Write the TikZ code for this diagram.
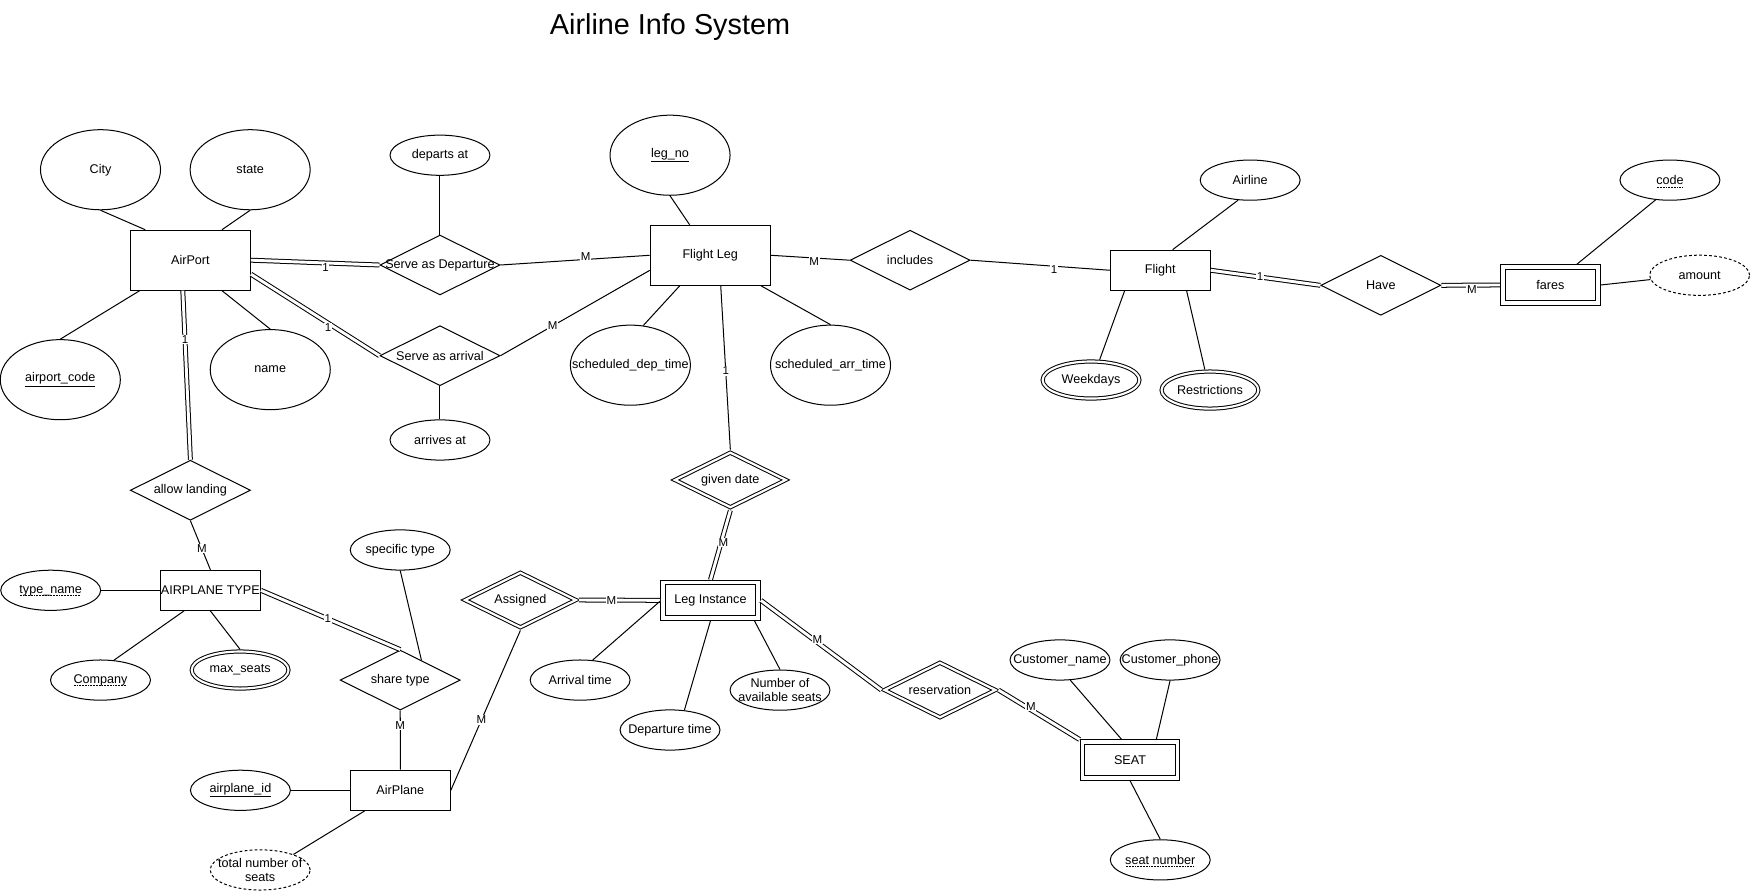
\documentclass[tikz,border=0pt]{standalone}
\usepackage{fontspec}
\setmainfont{Liberation Sans}
\usetikzlibrary{shapes.geometric}
\newsavebox\dotulbox
\newcommand{\dotul}[1]{\sbox\dotulbox{#1}\rlap{\raisebox{-2.4pt}[0pt][0pt]{\hbox to \wd\dotulbox{\leaders\hbox to 1.4pt{\hss\vrule width 0.7pt height 0.7pt\hss}\hfill}}}\usebox\dotulbox}

\begin{document}
\begin{tikzpicture}[x=1pt, y=-1pt, line width=0.9pt,
  font=\fontsize{11.3}{13}\selectfont,
  every label/.style={font=\fontsize{11.3}{13}\selectfont, align=center, inner sep=0pt},
  entity/.style={draw, rectangle, minimum width=89.5pt, minimum height=36pt, inner sep=0pt},
  bigentity/.style={entity, minimum width=107.5pt, minimum height=53.7pt},
  weakentity/.style={entity, double, double distance=3.3pt, minimum width=85.3pt, minimum height=31.8pt, outer sep=2.5pt},
  attribute/.style={draw, ellipse, minimum width=89.5pt, minimum height=36pt, inner sep=0pt, label=center:{#1}},
  bigattribute/.style={attribute={#1}, minimum width=107.5pt, minimum height=71.7pt},
  multivalued/.style={attribute={#1}, double, double distance=1.9pt, minimum width=86.7pt, minimum height=33.2pt, outer sep=1.9pt},
  derived/.style={attribute={#1}, dash pattern=on 2.5pt off 2pt},
  relation/.style={draw, diamond, minimum width=107.5pt, minimum height=53.7pt, inner sep=0pt, label=center:{#1}},
  weakrelation/.style={relation={#1}, double, double distance=2pt, minimum width=100.9pt, minimum height=50.5pt, outer sep=2pt},
  dbl/.style={double, double distance=2.6pt},
  card/.style={fill=white, inner sep=0.6pt, font=\fontsize{10.3}{11}\selectfont}]
  \useasboundingbox (0,0) rectangle (1568,798);

  % Title
  \node[anchor=base, font=\fontsize{25.8}{30}\selectfont] (title) at (600,31.3) {Airline Info System};

  % Entities
  \node[bigentity] (airport) at (170.5,233) {AirPort};
  \node[bigentity] (flightleg) at (636,228.6) {Flight Leg};
  \node[entity] (flight) at (1039,242) {Flight};
  \node[weakentity] (fares) at (1388.3,255.2) {fares};
  \node[entity] (atype) at (188.4,528.6) {AIRPLANE TYPE};
  \node[entity] (airplane) at (358.5,707.7) {AirPlane};
  \node[weakentity] (leginst) at (636.2,537.6) {Leg Instance};
  \node[weakentity] (seat) at (1011.9,680.6) {SEAT};

  % Relationships
  \node[relation=Serve as Departure] (servdep) at (394,237.3) {};
  \node[relation=Serve as arrival] (servarr) at (394,318.5) {};
  \node[relation=includes] (includes) at (815,233) {};
  \node[relation=Have] (have) at (1236.5,255.5) {};
  \node[relation=allow landing] (allowland) at (170.5,439) {};
  \node[relation=share type] (sharetype) at (358.4,609) {};
  \node[weakrelation=given date] (givendate) at (654,429.8) {};
  \node[weakrelation=Assigned] (assigned) at (466,537.3) {};
  \node[weakrelation=reservation] (reserv) at (841.7,617.9) {};

  % Attributes
  \node[bigattribute=City] (city) at (90,152) {};
  \node[bigattribute=state] (state) at (224,152) {};
  \node[bigattribute={\underline{airport\_code}}] (apcode) at (54,340) {};
  \node[bigattribute=name] (apname) at (242,331) {};
  \node[bigattribute={\underline{leg\_no}}] (legno) at (600,139) {};
  \node[bigattribute={scheduled\_dep\_time}] (sdep) at (564.5,327) {};
  \node[bigattribute={scheduled\_arr\_time}] (sarr) at (743.7,327) {};
  \node[attribute=departs at] (depat) at (394,139) {};
  \node[attribute=arrives at] (arrat) at (394,394) {};
  \node[attribute=Airline] (airline) at (1119.5,161.3) {};
  \node[attribute={\dotul{code}}] (code) at (1495.4,161.3) {};
  \node[derived=amount] (amount) at (1522,246.5) {};
  \node[multivalued=Weekdays] (weekdays) at (977,340.3) {};
  \node[multivalued=Restrictions] (restr) at (1083.5,349.3) {};
  \node[attribute={\dotul{type\_name}}] (tname) at (45.4,528.6) {};
  \node[attribute={\dotul{Company}}] (company) at (90,609) {};
  \node[multivalued={max\_seats}] (maxseats) at (215,600) {};
  \node[attribute=specific type] (spectype) at (358.4,492.5) {};
  \node[attribute={\underline{airplane\_id}}] (apid) at (215.3,707.7) {};
  \node[derived={total number of\\seats}] (totseats) at (233,779) {};
  \node[attribute=Arrival time] (arrtime) at (519.5,609) {};
  \node[attribute=Departure time] (deptime) at (600,653.7) {};
  \node[attribute={Number of\\available seats}] (avail) at (698.5,618) {};
  \node[attribute={Customer\_name}] (cname) at (949.2,591) {};
  \node[attribute={Customer\_phone}] (cphone) at (1047.8,591) {};
  \node[attribute={\dotul{seat number}}] (seatno) at (1039,770) {};

  % AirPort
  \draw (city.south) -- (airport.146);
  \draw (state.south) -- (airport.44);
  \draw (apcode.north) -- (airport.211);
  \draw (apname.north) -- (airport.-44);
  \draw[dbl] (airport.east) -- node[card, pos=.58, yshift=-4pt] {1} (servdep.west);
  \draw (servdep.east) -- node[card, pos=.57, yshift=3pt] {M} (flightleg.west);
  \draw (depat.south) -- (servdep.north);
  \draw[dbl] (airport.-13.6) -- node[card, pos=.6, yshift=-4pt] {1} (servarr.west);
  \draw (servarr.east) -- node[card, pos=.35] {M} (flightleg.194.4);
  \draw (servarr.south) -- (arrat.north);

  % Flight Leg and Flight
  \draw (legno.south) -- (flightleg.124);
  \draw (flightleg.225) -- (sdep.72);
  \draw (flightleg.-31) -- (sarr.north);
  \draw (flightleg.-71.5) -- node[card, pos=.52] {1} (givendate.north);
  \draw (flightleg.east) -- node[card, pos=.55, yshift=-3pt] {M} (includes.west);
  \draw (includes.east) -- node[card, pos=.6, yshift=-3pt] {1} (flight.west);
  \draw (airline.239) -- (flight.59.5);
  \draw (flight.210.5) -- (weekdays.67);
  \draw (flight.-38) -- (restr.104);
  \draw[dbl] (flight.east) -- node[card, pos=.45] {1} (have.west);
  \draw[dbl] (have.east) -- node[card, pos=.52, yshift=-4pt] {M} (fares.west);
  \draw (code.234) -- (fares.38);
  \draw (fares.east) -- (amount.185.5);

  % Airplane type and airplane
  \draw[dbl] (airport.256.4) -- node[card, pos=.29] {1} (allowland.north);
  \draw (allowland.south) -- node[card, pos=.57] {M} (atype.north);
  \draw (tname.east) -- (atype.west);
  \draw (atype.218.3) -- (company.56);
  \draw (atype.south) -- (maxseats.north);
  \draw[dbl] (atype.east) -- node[card, pos=.48] {1} (sharetype.north);
  \draw (spectype.south) -- (sharetype.43);
  \draw (sharetype.south) -- node[card, pos=.25] {M} (airplane.north);
  \draw (apid.east) -- (airplane.west);
  \draw (airplane.210) -- (totseats.25);
  \draw (airplane.east) -- node[card, pos=.44] {M} (assigned.south);

  % Leg instance and seat
  \draw[dbl] (assigned.east) -- node[card, pos=.4] {M} (leginst.west);
  \draw[dbl] (givendate.south) -- node[card, pos=.46, xshift=2pt] {M} (leginst.north);
  \draw (leginst.181.5) -- (arrtime.58);
  \draw (leginst.south) -- (deptime.54);
  \draw (leginst.-25) -- (avail.north);
  \draw[dbl] (leginst.east) -- node[card, pos=.47, yshift=3pt] {M} (reserv.west);
  \draw[dbl] (reserv.east) -- node[card, pos=.4, yshift=3pt] {M} (seat.north west);
  \draw (cname.-63.5) -- (seat.112.5);
  \draw (cphone.south) -- (seat.38.6);
  \draw (seat.south) -- (seatno.north);
\end{tikzpicture}
\end{document}
